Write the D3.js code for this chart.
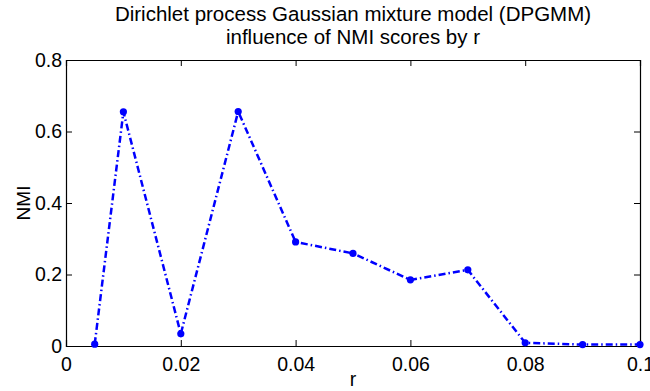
<!DOCTYPE html>
<html>
<head>
<meta charset="utf-8">
<script src="https://cdn.jsdelivr.net/npm/d3@7"></script>
<style>
  body { margin: 0; background: #fff; }
  svg text { font-family: "Liberation Sans", Arial, sans-serif; fill: #000; }
</style>
</head>
<body>
<svg id="chart" width="650" height="391"></svg>
<script>
// r values and NMI scores
const rValues = [0.005, 0.01, 0.02, 0.03, 0.04, 0.05, 0.06, 0.07, 0.08, 0.09, 0.1];
const nmiScores = [0.005, 0.655, 0.034, 0.656, 0.291, 0.259, 0.185, 0.213, 0.009, 0.004, 0.004];
const xTicks = [0, 0.02, 0.04, 0.06, 0.08, 0.1];
const yTicks = [0, 0.2, 0.4, 0.6, 0.8];
const titleLines = ['Dirichlet process Gaussian mixture model (DPGMM)', 'influence of NMI scores by r'];

const svg = d3.select('#chart');
const margin = { top: 60, right: 10, bottom: 45, left: 66 };
const width = 650 - margin.left - margin.right;
const height = 391 - margin.top - margin.bottom;

const x = d3.scaleLinear().domain([0, 0.1]).range([0, width]);
const y = d3.scaleLinear().domain([0, 0.8]).range([height, 0]);

const g = svg.append('g').attr('transform', `translate(${margin.left},${margin.top})`);

const fmt = d => d === 0 ? '0' : d3.format('.2~f')(d);

// axes with inward ticks, box style
const xBottom = g.append('g').attr('transform', `translate(0,${height})`)
  .call(d3.axisBottom(x).tickValues(xTicks).tickSize(-6).tickPadding(11).tickFormat(fmt));
const xTop = g.append('g')
  .call(d3.axisTop(x).tickValues(xTicks).tickSize(-6).tickFormat(''));
const yLeft = g.append('g')
  .call(d3.axisLeft(y).tickValues(yTicks).tickSize(-6).tickPadding(4).tickFormat(fmt));
const yRight = g.append('g').attr('transform', `translate(${width},0)`)
  .call(d3.axisRight(y).tickValues(yTicks).tickSize(-6).tickFormat(''));

[xBottom, xTop, yLeft, yRight].forEach(a => {
  a.select('.domain').attr('stroke', '#000').attr('stroke-width', 1.2);
  a.selectAll('.tick line').attr('stroke', '#000');
  a.selectAll('text').attr('font-size', 19.5).attr('font-family', '"Liberation Sans", Arial, sans-serif');
});

const points = rValues.map((r, i) => ({ r: r, v: nmiScores[i] }));

const line = d3.line().x(d => x(d.r)).y(d => y(d.v));

g.append('path')
  .datum(points)
  .attr('d', line)
  .attr('fill', 'none')
  .attr('stroke', '#0000ff')
  .attr('stroke-width', 2.5)
  .attr('stroke-dasharray', '7,3,1.5,3');

g.selectAll('circle.pt')
  .data(points)
  .enter().append('circle')
    .attr('class', 'pt')
    .attr('cx', d => x(d.r))
    .attr('cy', d => y(d.v))
    .attr('r', 3.6)
    .attr('fill', '#0000ff');

// title
svg.append('text')
  .attr('x', margin.left + width / 2)
  .attr('text-anchor', 'middle')
  .attr('font-size', 20.5)
  .selectAll('tspan')
  .data(titleLines)
  .enter().append('tspan')
    .attr('x', margin.left + width / 2)
    .attr('y', (d, i) => 21 + i * 23)
    .text(d => d);

// axis labels
svg.append('text')
  .attr('x', margin.left + width / 2)
  .attr('y', 386)
  .attr('text-anchor', 'middle')
  .attr('font-size', 19.5)
  .text('r');

svg.append('text')
  .attr('transform', `translate(30,${margin.top + height / 2}) rotate(-90)`)
  .attr('text-anchor', 'middle')
  .attr('font-size', 19)
  .text('NMI');
</script>
</body>
</html>
